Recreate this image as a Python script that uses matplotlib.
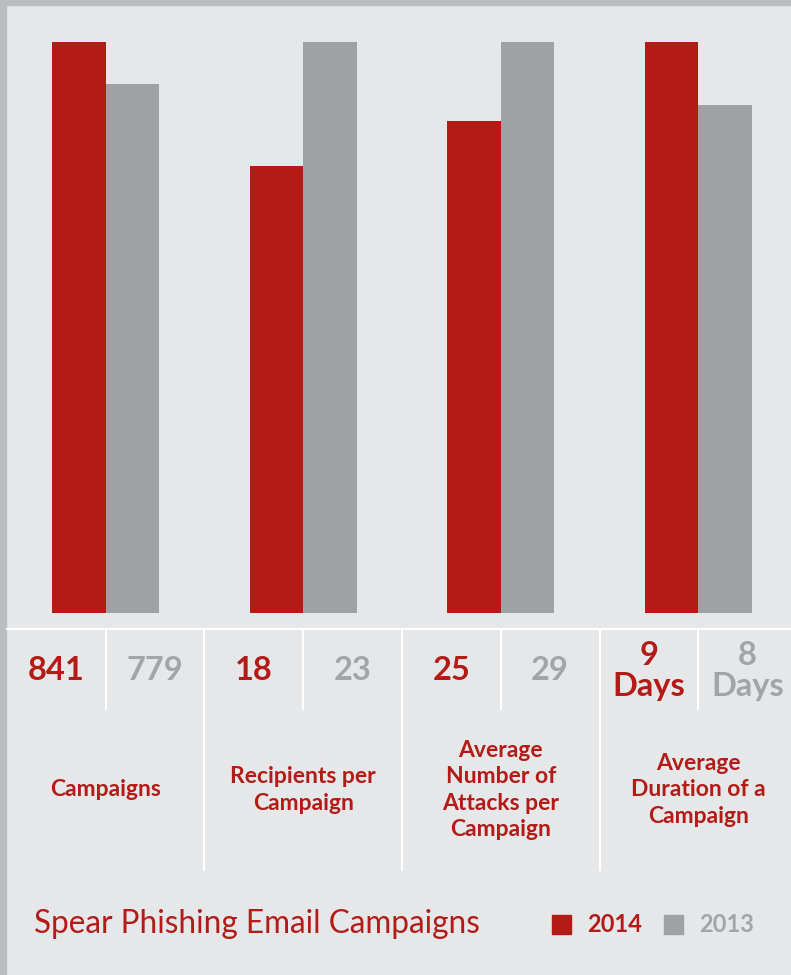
import matplotlib
matplotlib.use("Agg")
import matplotlib.pyplot as plt
from matplotlib.patches import Rectangle
from matplotlib.lines import Line2D

# ---- data ----
categories = ["Campaigns", "Recipients per\nCampaign",
              "Average\nNumber of\nAttacks per\nCampaign",
              "Average\nDuration of a\nCampaign"]
values_2014 = [841, 18, 25, 9]
values_2013 = [779, 23, 29, 8]
labels_2014 = ["841", "18", "25", "9\nDays"]
labels_2013 = ["779", "23", "29", "8\nDays"]
series_names = ["2014", "2013"]
title = "Spear Phishing Email Campaigns"

RED = "#b31b17"
GREY = "#a0a1a5"
GREY_TXT = "#a3a4a7"
BG = "#e6e7e9"
BORDER = "#bcbdc1"
FONT = "Lato"

W, H = 791, 975
fig = plt.figure(figsize=(W / 100, H / 100), dpi=100)
fig.patch.set_facecolor(BG)

def fx(px):
    return px / W

def fy(py):
    return 1 - py / H

# border strips (top and left)
fig.patches.append(Rectangle((0, fy(5)), 1, 5 / H, transform=fig.transFigure,
                             color=BORDER, zorder=0))
fig.patches.append(Rectangle((0, 0), 6 / W, 1, transform=fig.transFigure,
                             color=BORDER, zorder=0))

# bar axes
group_w = 197.5
x0 = 7
top, bottom = 42, 613
ax = fig.add_axes([fx(x0), fy(bottom), fx(group_w * 4), (bottom - top) / H])
ax.set_facecolor("none")
n = len(categories)
pos = list(range(n))
bw = 53.5 / group_w
h14 = [a / max(a, b) for a, b in zip(values_2014, values_2013)]
h13 = [b / max(a, b) for a, b in zip(values_2014, values_2013)]
ax.bar([p - bw / 2 for p in pos], h14, width=bw, color=RED, linewidth=0)
ax.bar([p + bw / 2 for p in pos], h13, width=bw, color=GREY, linewidth=0)
ax.set_xlim(-0.5, n - 0.5)
ax.set_ylim(0, 1)
ax.axis("off")

# table lines
line_y = 629
fig.add_artist(Line2D([fx(x0), 1], [fy(line_y), fy(line_y)], color="white", lw=1.5))
for i in range(1, n):
    xx = x0 + i * group_w
    fig.add_artist(Line2D([fx(xx), fx(xx)], [fy(line_y), fy(870)], color="white", lw=1.5))
for i in range(n):
    xx = x0 + i * group_w + group_w / 2
    fig.add_artist(Line2D([fx(xx), fx(xx)], [fy(line_y), fy(709)], color="white", lw=1.5))

# value labels and category labels
for i in range(n):
    gl = x0 + i * group_w
    fig.text(fx(gl + group_w / 4), fy(671), labels_2014[i], color=RED,
             fontsize=23.5, fontweight="bold", family=FONT,
             ha="center", va="center", linespacing=1.08)
    fig.text(fx(gl + 3 * group_w / 4), fy(671), labels_2013[i], color=GREY_TXT,
             fontsize=23.5, fontweight="bold", family=FONT,
             ha="center", va="center", linespacing=1.08)
    fig.text(fx(gl + group_w / 2), fy(790), categories[i], color=RED,
             fontsize=16.5, fontweight="bold", family=FONT,
             ha="center", va="center", linespacing=1.3)

# title
fig.text(fx(34), fy(924), title, color=RED, fontsize=22.7, family=FONT,
         ha="left", va="center")

# legend
fig.patches.append(Rectangle((fx(552), fy(934)), 19 / W, 19 / H,
                             transform=fig.transFigure, color=RED))
fig.text(fx(587), fy(925), series_names[0], color=RED, fontsize=17,
         fontweight="bold", family=FONT, ha="left", va="center")
fig.patches.append(Rectangle((fx(664), fy(934)), 19 / W, 19 / H,
                             transform=fig.transFigure, color=GREY))
fig.text(fx(699), fy(925), series_names[1], color=GREY_TXT, fontsize=17,
         fontweight="bold", family=FONT, ha="left", va="center")

fig.savefig("out.png", dpi=100, facecolor=BG)
